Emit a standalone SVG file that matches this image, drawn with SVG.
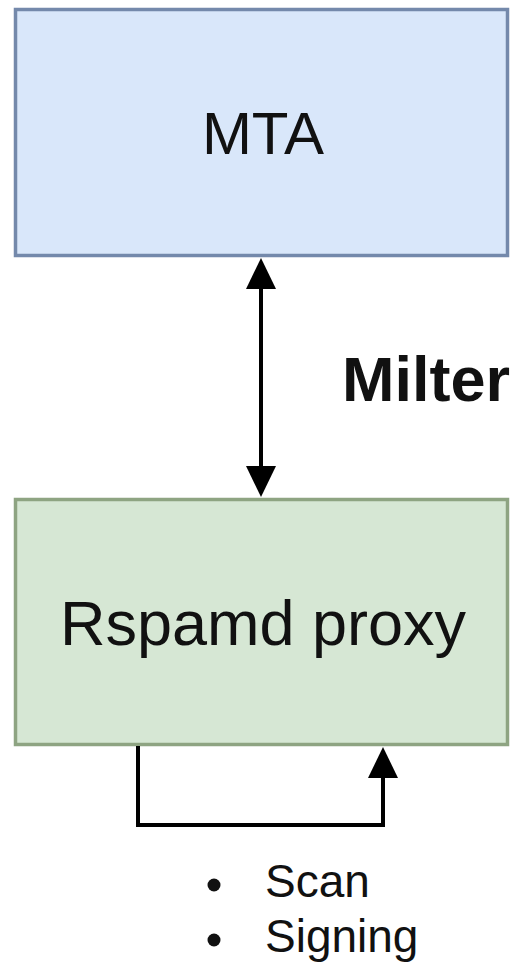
<svg xmlns="http://www.w3.org/2000/svg" width="516" height="963" viewBox="0 0 516 963">
  <style>
    .label { font-family: "Liberation Sans", Arial, sans-serif; fill: #111111; }
    .wire { fill: none; stroke: #000000; stroke-width: 4; }
    .head { fill: #000000; }
  </style>

  <rect width="516" height="963" fill="#ffffff"/>

  <!-- MTA -->
  <g id="mta">
    <rect x="15.5" y="9.5" width="492" height="246" fill="#d9e7fa" stroke="#7489ab" stroke-width="3.5"/>
    <text class="label" x="263" y="154" font-size="60" text-anchor="middle">MTA</text>
  </g>

  <!-- Rspamd proxy -->
  <g id="rspamd-proxy">
    <rect x="15.5" y="499.5" width="492" height="245" fill="#d6e7d4" stroke="#8ea482" stroke-width="3.5"/>
    <text class="label" x="263" y="645" font-size="63" text-anchor="middle">Rspamd proxy</text>
  </g>

  <!-- Connectors -->
  <g id="connectors">
    <line class="wire" x1="261" y1="288" x2="261" y2="466"/>
    <path class="head" d="M261,258 L246,289 L276,289 Z"/>
    <path class="head" d="M261,497 L246,466 L276,466 Z"/>
    <path class="wire" d="M138,746 L138,825 L383,825 L383,778"/>
    <path class="head" d="M383,747 L368,778 L398,778 Z"/>
  </g>

  <!-- Edge label -->
  <g id="milter-label">
    <text class="label" x="342" y="401" font-size="63" font-weight="bold">Milter</text>
  </g>

  <!-- Bullet list -->
  <g id="steps">
    <circle cx="214" cy="885" r="6.5" fill="#111111"/>
    <text class="label" x="265" y="897" font-size="46">Scan</text>
    <circle cx="214" cy="940" r="6.5" fill="#111111"/>
    <text class="label" x="265" y="952" font-size="46">Signing</text>
  </g>
</svg>
